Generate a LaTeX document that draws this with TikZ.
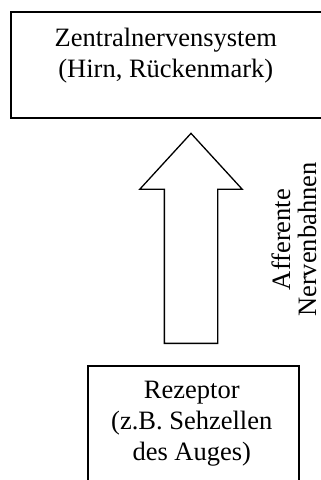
\documentclass[tikz,border=0pt]{standalone}
\usepackage{fontspec}
\setmainfont{Liberation Serif}
\usetikzlibrary{positioning,shapes.arrows}
\tikzset{
  box/.style={draw=black,line width=1.6pt,inner sep=0pt},
  lbl/.style={align=center,inner sep=0pt,font=\fontsize{26.5}{31}\selectfont},
  vlbl/.style={lbl,rotate=90,font=\fontsize{26.5}{26}\selectfont},
  bigarrow/.style={draw=black,line width=1.3pt,single arrow,single arrow head extend=24.5pt,single arrow tip angle=85,minimum height=210pt,minimum width=101pt,inner xsep=0pt,inner ysep=26pt,rotate=90},
}
\begin{document}
\begin{tikzpicture}[x=1pt,y=-1pt]
\useasboundingbox (0,0) rectangle (321,480);
\node[box,anchor=north west,minimum width=314pt,minimum height=106pt] (zns) at (10,11) {};
\node[lbl,below=17pt of zns.north,xshift=-2pt] (znslbl) {Zentralnervensystem\\(Hirn, Rückenmark)};
\node[box,anchor=north west,minimum width=211pt,minimum height=125pt] (rez) at (87,365) {};
\node[lbl,below=16pt of rez.north,xshift=-1.5pt] (rezlbl) {Rezeptor\\(z.B. Sehzellen\\des Auges)};
\node[bigarrow,anchor=tail] (afferent) at (191,344) {};
\node[vlbl] (nerven) at (294,239.5) {Afferente\\Nervenbahnen};
\end{tikzpicture}
\end{document}
